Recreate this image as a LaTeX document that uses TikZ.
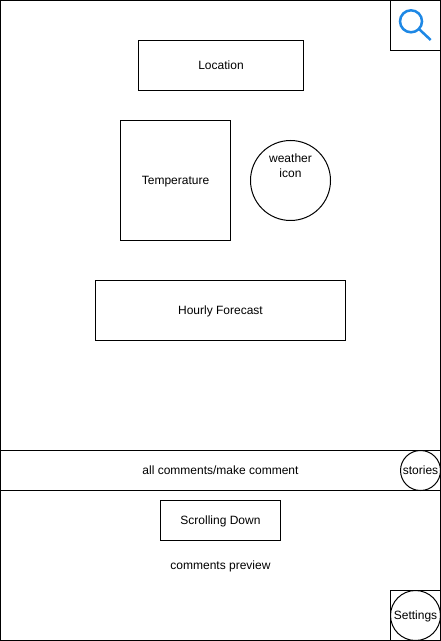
\documentclass[tikz,border=0pt]{standalone}
\usepackage{fontspec}
\usetikzlibrary{calc}
\setmainfont{Liberation Sans}
\definecolor{iconblue}{HTML}{1E88E5}
\tikzset{
  shapebase/.style={draw=black,line width=0.75pt,inner sep=0pt,outer sep=0pt,font=\fontsize{9pt}{11pt}\selectfont,align=center,text=black,text height=6pt,text depth=0pt},
  rbox/.style n args={2}{shapebase,rectangle,minimum width=#1*0.75pt,minimum height=#2*0.75pt},
  cbox/.style={shapebase,circle,minimum size=#1*0.75pt},
  plain/.style={inner sep=0pt,outer sep=0pt,font=\fontsize{9pt}{11pt}\selectfont,text=black,text height=6pt,text depth=0pt},
  iconline/.style={draw=iconblue,line width=1.9pt},
}
\begin{document}
\begin{tikzpicture}[x=0.75pt,y=-0.75pt]
\useasboundingbox (0,0) rectangle (441,641);
\node[rbox={440}{640}] (screen) at (220.5,320.5) {};
\node[rbox={50}{50}] (searchbox) at (415.5,25.5) {};
\node[rbox={165}{50}] (location) at (221,65.5) {Location};
\node[rbox={110}{120}] (temperature) at (175.5,180.5) {Temperature};
\node[cbox=80,text depth=11pt] (weather) at (290.5,180.5) {weather\\icon};
\node[rbox={250}{60}] (hourly) at (220.5,310.5) {Hourly Forecast};
\node[rbox={440}{40}] (comments) at (220.5,470.5) {all comments/make comment};
\node[cbox=40] (stories) at (420.5,470.5) {stories};
\node[rbox={120}{40}] (scrolling) at (220.5,520.5) {Scrolling Down};
\node[plain] (preview) at (220.5,565.5) {comments preview};
\node[rbox={50}{50}] (settingsbox) at (415.5,615.5) {};
\node[cbox=50] (settings) at (415.5,615.5) {Settings};
\draw[iconline] (411,21.3) circle [radius=11];
\draw[iconline] (419.5,29.5) -- (430.7,40);
\end{tikzpicture}
\end{document}
